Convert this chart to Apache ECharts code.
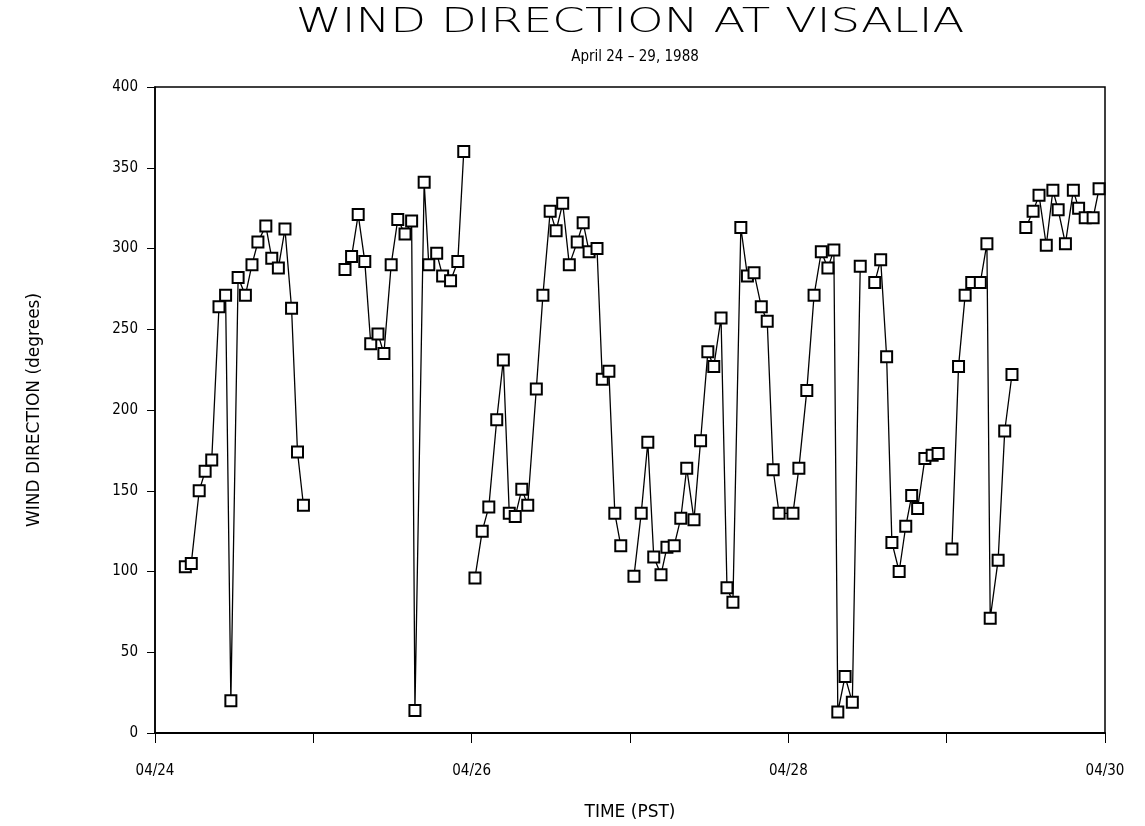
<!DOCTYPE html>
<html>
<head>
<meta charset="utf-8">
<script src="https://cdn.jsdelivr.net/npm/echarts@6/dist/echarts.min.js"></script>
<style>
html,body{margin:0;padding:0;background:#fff;}
#chart{width:1145px;height:826px;}
</style>
</head>
<body>
<div id="chart"></div>
<script>
// Hours since 04/24 00:00 PST; null value = gap in record
const hours = [
  4.6,5.5,6.7,7.6,8.6,9.7,10.7,11.5,12.6,13.7,14.7,15.6,16.8,17.7,18.7,19.7,20.7,21.6,22.5,
  25.5,
  28.8,29.8,30.8,31.8,32.7,33.8,34.7,35.8,36.8,37.9,38.9,39.4,40.8,41.5,42.7,43.6,44.8,45.9,46.8,
  47.6,
  48.5,49.6,50.6,51.8,52.8,53.7,54.6,55.6,56.5,57.8,58.8,59.9,60.8,61.8,62.8,64.0,64.9,65.8,67.0,67.8,68.8,69.7,70.6,
  71.6,
  72.6,73.7,74.7,75.6,76.7,77.6,78.7,79.7,80.6,81.7,82.7,83.8,84.7,85.8,86.7,87.6,88.8,89.8,90.8,91.9,92.8,93.7,94.6,96.7,97.6,98.8,99.9,101.0,102.0,102.9,103.5,104.6,105.7,106.9,
  108.0,
  109.1,110.0,110.9,111.7,112.8,113.8,114.7,115.6,116.7,117.8,118.7,
  119.8,
  120.8,121.8,122.8,123.8,125.1,126.1,126.6,127.8,128.8,129.9,
  131.0,
  132.0,133.1,134.0,135.1,136.1,136.9,138.0,139.2,140.0,141.0,142.2,143.1
];
const direction = [
  103,105,150,162,169,264,271,20,282,271,290,304,314,294,288,312,263,174,141,
  null,
  287,295,321,292,241,247,235,290,318,309,317,14,341,290,297,283,280,292,360,
  null,
  96,125,140,194,231,136,134,151,141,213,271,323,311,328,290,304,316,298,300,219,224,136,116,
  null,
  97,136,180,109,98,115,116,133,164,132,181,236,227,257,90,81,313,283,285,264,255,163,136,136,164,212,271,298,288,299,13,35,19,289,
  null,
  279,293,233,118,100,128,147,139,170,172,173,
  null,
  114,227,271,279,279,303,71,107,187,222,
  null,
  313,323,333,302,336,324,303,336,325,319,319,337
];
const dayTicks = [0,24,48,72,96,120,144];
const dayLabels = ['04/24','','04/26','','04/28','','04/30'];
const yTicks = [0,50,100,150,200,250,300,350,400];

const titleText = 'WIND DIRECTION AT VISALIA';
const subtitleText = 'April 24 \u2013 29, 1988';
const xName = 'TIME (PST)';
const yName = 'WIND DIRECTION (degrees)';

const seriesData = hours.map((h, i) => [h, direction[i]]);

const chart = echarts.init(document.getElementById('chart'), null, {renderer: 'canvas'});
const font = 'DejaVu Sans Condensed';
chart.setOption({
  animation: false,
  backgroundColor: '#ffffff',
  title: [
    {text: subtitleText, left: 630, top: 45, textAlign: 'center',
     textStyle: {fontFamily: font, fontWeight: 'normal', fontSize: 15, color: '#000'}}
  ],
  graphic: [
    {type: 'text', x: 630, y: 23, scaleX: 1.37, scaleY: 1,
     style: {text: titleText, fontFamily: 'DejaVu Sans', fontWeight: 'lighter', fontSize: 34,
             fill: '#000', align: 'center', verticalAlign: 'middle'}}
  ],
  grid: {left: 155, right: 40, top: 87, bottom: 93, show: true, borderColor: '#000', borderWidth: 1.5, backgroundColor: 'transparent'},
  xAxis: {
    type: 'value', min: dayTicks[0], max: dayTicks[dayTicks.length-1], interval: 24,
    name: xName, nameLocation: 'middle', nameGap: 71,
    nameTextStyle: {fontFamily: 'DejaVu Sans', fontSize: 17, color: '#000'},
    axisLine: {lineStyle: {color: '#000', width: 2}},
    axisTick: {show: true, inside: false, length: 10, lineStyle: {color: '#000', width: 1}},
    splitLine: {show: false},
    axisLabel: {margin: 31, fontFamily: font, fontSize: 15, color: '#000',
      formatter: v => { const i = dayTicks.indexOf(v); return i >= 0 ? dayLabels[i] : ''; }}
  },
  yAxis: {
    type: 'value', min: yTicks[0], max: yTicks[yTicks.length-1], interval: 50,
    name: yName, nameLocation: 'middle', nameGap: 112, nameRotate: 90,
    nameTextStyle: {fontFamily: 'DejaVu Sans', fontSize: 17, color: '#000'},
    axisLine: {show: true, lineStyle: {color: '#000', width: 1.5}},
    axisTick: {show: true, inside: false, length: 8, lineStyle: {color: '#000', width: 1}},
    splitLine: {show: false},
    axisLabel: {margin: 17, fontFamily: font, fontSize: 15, color: '#000'}
  },
  series: [{
    type: 'line',
    data: seriesData,
    connectNulls: false,
    symbol: 'rect',
    symbolSize: 11,
    showAllSymbol: true,
    lineStyle: {color: '#000', width: 1.3},
    itemStyle: {color: '#fff', borderColor: '#000', borderWidth: 2}
  }]
});
</script>
</body>
</html>
